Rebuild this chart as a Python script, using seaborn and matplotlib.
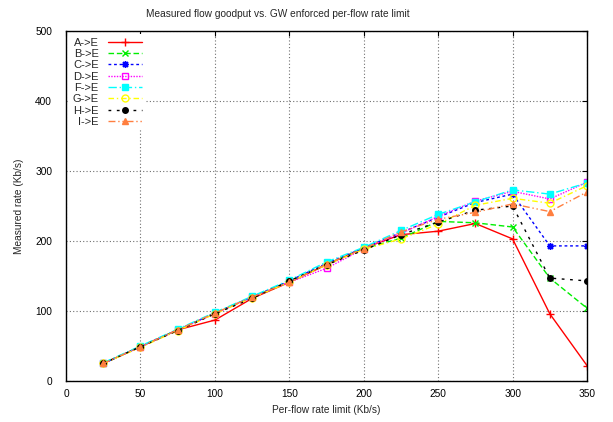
import matplotlib
matplotlib.use("Agg")
import matplotlib.pyplot as plt
import seaborn as sns
import pandas as pd

# Per-flow rate limits enforced at the gateway (Kb/s)
rate_limit = [25, 50, 75, 100, 125, 150, 175, 200, 225, 250, 275, 300, 325, 350]

# Measured goodput per flow (Kb/s)
a_e = [25, 49, 73, 87, 118, 141, 166, 190, 209, 214, 225, 203, 96, 22]
b_e = [25, 49, 73, 97, 120, 142, 167, 189, 204, 228, 226, 220, 147, 104]
c_e = [25, 49, 73, 97, 120, 143, 168, 190, 212, 234, 255, 267, 193, 193]
d_e = [25, 49, 73, 96, 120, 141, 161, 189, 211, 235, 257, 271, 260, 284]
f_e = [26, 50, 74, 98, 121, 144, 170, 191, 215, 238, 256, 273, 267, 283]
g_e = [25, 48, 72, 96, 119, 141, 166, 188, 203, 224, 251, 261, 254, 279]
h_e = [25, 49, 72, 96, 118, 143, 166, 187, 209, 227, 244, 250, 147, 143]
i_e = [25, 49, 73, 97, 120, 141, 167, 189, 213, 231, 241, 253, 242, 270]

flow_labels = ["A->E", "B->E", "C->E", "D->E", "F->E", "G->E", "H->E", "I->E"]
flow_values = [a_e, b_e, c_e, d_e, f_e, g_e, h_e, i_e]

sns.set_theme(style="white")
plt.rcParams["font.family"] = ["Liberation Sans", "DejaVu Sans"]
plt.rcParams["font.size"] = 7.3

# line colour, marker, marker size, marker face, dash pattern
styles = [
    ("#ff0000", "+", 5.5, None, ()),
    ("#00ee00", "x", 4.5, None, (4, 2)),
    ("#0000ff", (8, 2, 0), 5, None, (2, 2)),
    ("#ff00ff", "s", 5, "none", (1, 1)),
    ("#00ffff", "s", 5, "#00ffff", (6, 2, 1, 2)),
    ("#ffff00", "o", 5, "none", (4, 2, 1, 2)),
    ("#000000", "o", 4, "#000000", (2, 4)),
    ("#ff7f3f", "^", 5, "#ff7f3f", (5, 2, 1, 2, 1, 2)),
]

fig = plt.figure(figsize=(6.13, 4.22), dpi=100)
ax = fig.add_axes([0.1077, 0.0972, 0.8499, 0.8293])

for label, vals, (col, mk, ms, mfc, dash) in zip(flow_labels, flow_values, styles):
    df = pd.DataFrame({"limit": rate_limit, "rate": vals})
    kws = dict(color=col, marker=mk, markersize=ms, markeredgecolor=col,
               markeredgewidth=1.0, linewidth=1.0, label=label)
    if mfc is not None:
        kws["markerfacecolor"] = mfc
    if dash:
        kws["dashes"] = dash
    sns.lineplot(data=df, x="limit", y="rate", ax=ax, sort=False, **kws)

ax.set_xlim(0, 350)
ax.set_ylim(0, 500)
ax.set_xticks(range(0, 351, 50))
ax.set_yticks(range(0, 501, 100))
ax.grid(True, linestyle=(0, (1, 2)), color="#707070", linewidth=0.8)
ax.set_axisbelow(True)
for s in ax.spines.values():
    s.set_color("black")
    s.set_linewidth(1.0)
ax.tick_params(direction="in", length=3.5, width=0.8, top=True, right=True,
               colors="black", labelsize=7.3)
ax.tick_params(axis="y", pad=10)
ax.tick_params(axis="x", pad=6)

ax.set_title("Measured flow goodput vs. GW enforced per-flow rate limit",
             fontsize=7.3, pad=10, x=0.406)
ax.set_xlabel("Per-flow rate limit (Kb/s)", fontsize=7.3, labelpad=4)
ax.set_ylabel("Measured rate (Kb/s)", fontsize=7.3, labelpad=8)

leg = ax.legend(loc="upper left", markerfirst=False, frameon=True,
                facecolor="white", edgecolor="none", framealpha=1,
                fancybox=False, handlelength=3.1, handletextpad=0.8,
                labelspacing=0.12, borderpad=0.3, borderaxespad=0.3,
                fontsize=8)

fig.savefig("out.png", dpi=100)
